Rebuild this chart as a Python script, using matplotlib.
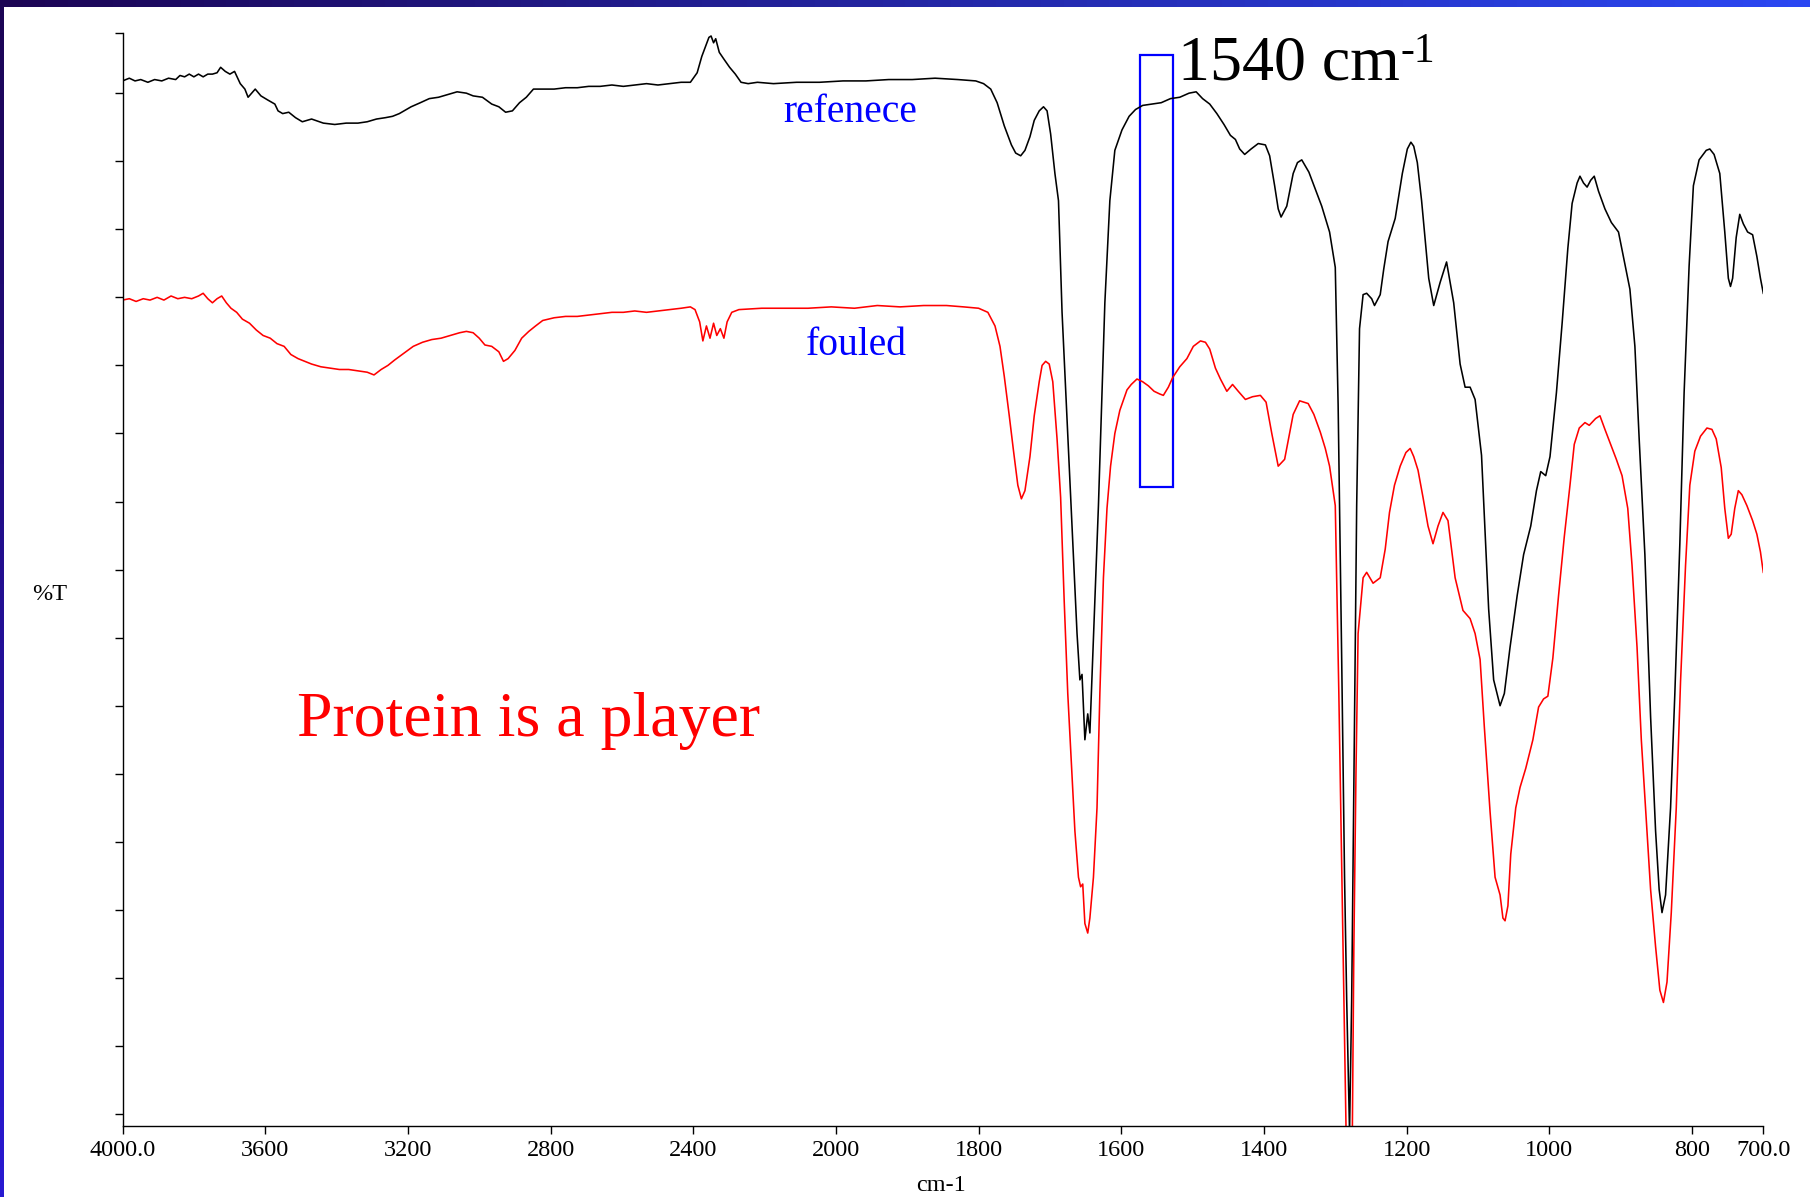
import numpy as np
import matplotlib
matplotlib.use("Agg")
import matplotlib.pyplot as plt
from matplotlib.patches import Rectangle

plt.rcParams['font.family'] = ['Liberation Serif', 'DejaVu Serif']

# FTIR spectra, wavenumber (cm-1) vs %T
ref_wn = [4000, 3981, 3965, 3949, 3929, 3910, 3890, 3871, 3851, 3839,
          3826, 3813, 3800, 3787, 3774, 3761, 3748, 3735, 3725, 3712,
          3699, 3686, 3670, 3657, 3648, 3638, 3628, 3612, 3593, 3573,
          3564, 3551, 3534, 3515, 3496, 3470, 3437, 3405, 3373, 3340,
          3314, 3288, 3263, 3243, 3224, 3211, 3191, 3165, 3140, 3114,
          3088, 3062, 3036, 3017, 2991, 2965, 2945, 2926, 2907, 2887,
          2868, 2848, 2822, 2790, 2758, 2725, 2693, 2661, 2628, 2596,
          2564, 2531, 2499, 2466, 2434, 2408, 2389, 2376, 2366, 2356,
          2350, 2343, 2337, 2327, 2314, 2298, 2282, 2266, 2246, 2220,
          2175, 2110, 2046,
          1990, 1958, 1926, 1893, 1861, 1829, 1804, 1793, 1783, 1774,
          1764, 1754, 1748, 1741, 1735, 1728, 1722, 1715, 1709, 1704,
          1699, 1693, 1688, 1683, 1672, 1662, 1658, 1655, 1651, 1647,
          1644, 1639, 1632, 1623, 1616, 1609, 1599, 1589, 1580, 1570,
          1557, 1544, 1531, 1518, 1505, 1495, 1486, 1476, 1466, 1456,
          1447, 1440, 1434, 1427, 1418, 1408, 1398, 1392, 1385, 1380,
          1376, 1368, 1359, 1353, 1347, 1337, 1327, 1319, 1308, 1300,
          1296, 1291, 1287, 1284, 1280, 1277, 1270, 1266, 1261, 1256,
          1249, 1245, 1237, 1232, 1226, 1216, 1212, 1206, 1199, 1194,
          1190, 1185, 1179, 1169, 1162, 1153, 1144, 1134, 1125, 1118,
          1111, 1104, 1095, 1085, 1078, 1069, 1063, 1055, 1045, 1036,
          1026, 1018, 1012, 1005, 999, 990, 982, 974, 968, 961,
          957, 952, 947, 942, 937, 931, 922, 913, 903, 895,
          887, 880, 874, 866, 858, 851, 846, 842, 837, 830,
          824, 817, 811, 804, 798, 790, 780, 775, 769, 761,
          754, 749, 746, 743, 738, 733, 728, 722, 715, 709,
          704, 700]
ref_t = [75.9, 76.1, 75.9, 76.0, 75.8, 76.0, 75.9, 76.1, 76.0, 76.3,
         76.2, 76.4, 76.2, 76.4, 76.2, 76.4, 76.4, 76.5, 76.9, 76.6,
         76.4, 76.6, 75.7, 75.3, 74.7, 75.0, 75.3, 74.8, 74.5, 74.2,
         73.7, 73.5, 73.6, 73.2, 72.9, 73.1, 72.8, 72.7, 72.8, 72.8,
         72.9, 73.1, 73.2, 73.3, 73.5, 73.7, 74.0, 74.3, 74.6, 74.7,
         74.9, 75.1, 75.0, 74.8, 74.7, 74.2, 74.0, 73.6, 73.7, 74.3,
         74.7, 75.3, 75.3, 75.3, 75.4, 75.4, 75.5, 75.5, 75.6, 75.5,
         75.6, 75.7, 75.6, 75.7, 75.8, 75.8, 76.5, 77.7, 78.4, 79.1,
         79.2, 78.7, 79.0, 78.0, 77.5, 76.9, 76.4, 75.8, 75.7, 75.8,
         75.7, 75.8, 75.8,
         75.9, 75.9, 76.0, 76.0, 76.1, 76.0, 75.9, 75.7, 75.3, 74.3,
         72.6, 71.2, 70.6, 70.4, 70.8, 71.8, 73.0, 73.7, 74.0, 73.7,
         72.0, 69.1, 67.1, 58.9, 46.5, 35.3, 31.9, 32.3, 27.5, 29.4,
         28.0, 34.9, 44.7, 59.6, 67.1, 70.8, 72.3, 73.3, 73.8, 74.1,
         74.2, 74.3, 74.6, 74.7, 75.0, 75.1, 74.6, 74.2, 73.5, 72.7,
         71.9, 71.6, 70.9, 70.5, 70.9, 71.3, 71.2, 70.4, 68.2, 66.5,
         65.9, 66.7, 69.1, 69.9, 70.1, 69.2, 67.8, 66.7, 64.8, 62.2,
         52.1, 33.4, 17.4, 8.4, -1.3, 8.4, 44.7, 57.7, 60.2, 60.3,
         59.9, 59.4, 60.2, 62.1, 64.1, 65.8, 67.1, 69.1, 70.9, 71.4,
         71.1, 69.9, 67.1, 61.4, 59.4, 61.1, 62.6, 59.6, 55.1, 53.4,
         53.4, 52.5, 48.4, 37.1, 31.9, 30.0, 30.9, 34.3, 38.1, 41.1,
         43.2, 45.8, 47.2, 46.9, 48.3, 53.0, 58.1, 63.6, 66.9, 68.4,
         68.9, 68.4, 68.1, 68.6, 68.9, 67.8, 66.5, 65.5, 64.8, 62.7,
         60.6, 56.4, 49.6, 41.1, 29.2, 20.8, 16.5, 14.8, 16.1, 22.5,
         30.9, 41.9, 53.0, 62.3, 68.2, 70.1, 70.8, 70.9, 70.5, 69.1,
         64.8, 61.4, 60.8, 61.4, 64.4, 66.1, 65.4, 64.8, 64.6, 63.0,
         61.4, 60.3]

fouled_wn = [4000, 3981, 3962, 3942, 3923, 3903, 3884, 3864, 3845, 3826,
             3806, 3787, 3774, 3761, 3748, 3735, 3722, 3709, 3696, 3680,
             3664, 3644, 3625, 3606, 3586, 3567, 3547, 3528, 3508, 3489,
             3470, 3444, 3418, 3392, 3366, 3340, 3314, 3295, 3275, 3256,
             3237, 3211, 3185, 3159, 3133, 3107, 3081, 3055, 3036, 3017,
             3000, 2984, 2965, 2945, 2932, 2919, 2900, 2881, 2861, 2842,
             2822, 2790, 2758, 2725, 2693, 2661, 2628, 2596, 2564, 2531,
             2499, 2466, 2434, 2408, 2395, 2382, 2373, 2363, 2353, 2343,
             2334, 2324, 2314, 2305, 2292, 2272, 2208, 2143, 2078, 2013,
             1974, 1942, 1910, 1877, 1845, 1821, 1800, 1787, 1777, 1770,
             1764, 1757, 1751, 1745, 1740, 1735, 1728, 1722, 1715, 1711,
             1706, 1701, 1696, 1690, 1685, 1680, 1675, 1670, 1665, 1660,
             1657, 1654, 1651, 1647, 1644, 1639, 1634, 1630, 1625, 1620,
             1615, 1609, 1602, 1592, 1586, 1578, 1570, 1562, 1554, 1546,
             1541, 1534, 1528, 1518, 1508, 1499, 1489, 1482, 1476, 1468,
             1461, 1452, 1444, 1436, 1426, 1416, 1405, 1397, 1389, 1380,
             1371, 1364, 1359, 1350, 1338, 1330, 1321, 1314, 1308, 1300,
             1295, 1290, 1285, 1281, 1276, 1274, 1271, 1268, 1261, 1256,
             1247, 1237, 1230, 1224, 1217, 1209, 1201, 1195, 1190, 1184,
             1177, 1170, 1163, 1156, 1149, 1142, 1132, 1121, 1111, 1104,
             1097, 1091, 1083, 1076, 1069, 1065, 1062, 1058, 1054, 1047,
             1041, 1033, 1023, 1015, 1008, 1002, 995, 987, 979, 971,
             965, 958, 950, 944, 935, 929, 922, 914, 906, 898,
             890, 884, 877, 871, 864, 858, 851, 845, 840, 835,
             829, 822, 816, 809, 803, 796, 788, 779, 772, 766,
             759, 754, 749, 745, 740, 735, 730, 723, 715, 709,
             704, 700]
fouled_t = [59.8, 59.9, 59.7, 59.9, 59.8, 60.0, 59.8, 60.1, 59.9, 60.0,
            59.9, 60.1, 60.3, 59.9, 59.6, 59.9, 60.1, 59.6, 59.2, 58.9,
            58.4, 58.1, 57.6, 57.2, 57.0, 56.6, 56.4, 55.8, 55.5, 55.3,
            55.1, 54.9, 54.8, 54.7, 54.7, 54.6, 54.5, 54.3, 54.7, 55.0,
            55.4, 55.9, 56.4, 56.7, 56.9, 57.0, 57.2, 57.4, 57.5, 57.4,
            57.0, 56.5, 56.4, 56.0, 55.3, 55.5, 56.1, 57.0, 57.5, 57.9,
            58.3, 58.5, 58.6, 58.6, 58.7, 58.8, 58.9, 58.9, 59.0, 58.9,
            59.0, 59.1, 59.2, 59.3, 59.1, 58.2, 56.8, 57.9, 57.0, 58.1,
            57.2, 57.7, 57.0, 58.2, 58.9, 59.1, 59.2, 59.2, 59.2, 59.3,
            59.2, 59.4, 59.3, 59.4, 59.4, 59.3, 59.2, 58.9, 57.9, 56.4,
            54.2, 51.3, 48.7, 46.2, 45.2, 45.8, 48.3, 51.3, 53.8, 55.0,
            55.3, 55.1, 53.8, 49.6, 45.3, 37.7, 30.9, 25.8, 20.8, 17.4,
            16.7, 16.9, 14.0, 13.3, 14.4, 17.4, 22.5, 30.9, 39.4, 44.5,
            47.6, 50.0, 51.7, 53.2, 53.6, 54.0, 53.8, 53.5, 53.1, 52.9,
            52.8, 53.4, 54.1, 54.9, 55.5, 56.4, 56.8, 56.7, 56.2, 54.8,
            54.0, 53.1, 53.6, 53.1, 52.5, 52.7, 52.8, 52.3, 50.0, 47.6,
            48.1, 50.0, 51.4, 52.4, 52.2, 51.4, 50.1, 48.9, 47.6, 44.7,
            30.9, 15.0, -0.8, -25.0, -0.8, 12.0, 25.0, 35.3, 39.4, 39.8,
            39.0, 39.4, 41.5, 44.2, 46.2, 47.6, 48.6, 48.9, 48.3, 47.3,
            45.3, 43.2, 41.9, 43.2, 44.2, 43.6, 39.4, 37.0, 36.4, 35.3,
            33.4, 28.4, 22.2, 17.4, 16.1, 14.4, 14.2, 15.3, 19.1, 22.5,
            24.0, 25.4, 27.5, 29.9, 30.5, 30.7, 33.5, 38.1, 42.4, 46.2,
            49.2, 50.4, 50.8, 50.6, 51.1, 51.3, 50.3, 49.2, 48.1, 46.9,
            44.5, 40.3, 34.3, 27.5, 21.6, 16.5, 12.3, 9.1, 8.2, 9.7,
            14.8, 22.5, 31.8, 40.3, 46.2, 48.7, 49.8, 50.4, 50.3, 49.6,
            47.5, 44.5, 42.3, 42.6, 44.5, 45.8, 45.5, 44.7, 43.6, 42.6,
            41.3, 39.8]

x_ticks = [4000, 3600, 3200, 2800, 2400, 2000, 1800, 1600, 1400, 1200, 1000, 800, 700]
x_labels = ['4000.0', '3600', '3200', '2800', '2400', '2000', '1800', '1600',
            '1400', '1200', '1000', '800', '700.0']
y_ticks = [0, 5, 10, 15, 20, 25, 30, 35, 40, 45, 50, 55, 60, 65, 70, 75, 79.4]

# amide II band marked with a box
band_lo, band_hi = 1527, 1574
band_bottom, band_top = 46.1, 77.8


# wavenumber axis: 400 cm-1 per division above 2000, 200 cm-1 per division below
def fwd(x):
    x = np.asarray(x, dtype=float)
    return np.where(x >= 2000, (x - 4000) / 400.0, -5 - (2000 - x) / 200.0)


def inv(u):
    u = np.asarray(u, dtype=float)
    return np.where(u >= -5, 4000 + 400.0 * u, 2000 + 200.0 * (u + 5))


fig = plt.figure(figsize=(18.10, 11.97), dpi=100)

# slide background with a white panel on top
bg = fig.add_axes([0, 0, 1, 1], zorder=0)
bg.axis('off')
gx = np.linspace(0, 1, 80)[None, :, None]
gy = np.linspace(0, 1, 80)[:, None, None]
dark = np.array([0.11, 0.02, 0.33])
img = dark + gx * (np.array([0.17, 0.28, 0.95]) - dark) + gy * (np.array([0.16, 0.10, 0.82]) - dark)
bg.imshow(np.clip(img, 0, 1), extent=[0, 1, 0, 1], aspect='auto', origin='upper')
bg.add_patch(Rectangle((4 / 1810, 0), 1, 1 - 7 / 1197, transform=bg.transAxes,
                       facecolor='white', edgecolor='none'))
bg.set_xlim(0, 1)
bg.set_ylim(0, 1)

ax = fig.add_axes([0.0677, 0.0596, 0.9065, 0.9126], zorder=1)
ax.set_facecolor('none')
ax.set_xscale('function', functions=(fwd, inv))

ax.plot(ref_wn, ref_t, color='black', lw=1.15)
ax.plot(fouled_wn, fouled_t, color='red', lw=1.15)

ax.add_patch(Rectangle((band_lo, band_bottom), band_hi - band_lo, band_top - band_bottom,
                       fill=False, edgecolor='#0000ff', lw=1.6))

ax.set_xlim(4000, 700)
ax.set_ylim(-0.85, 79.4)
ax.set_xticks(x_ticks)
ax.set_xticklabels(x_labels)
ax.set_yticks(y_ticks)
ax.set_yticklabels([])
ax.tick_params(axis='both', direction='out', length=6, width=1.0, labelsize=17.5, pad=4.5)
ax.spines['top'].set_visible(False)
ax.spines['right'].set_visible(False)
ax.spines['left'].set_linewidth(1.0)
ax.spines['bottom'].set_linewidth(1.0)

ax.text(1980, 72.9, 'refenece', color='#0000ff', fontsize=28.5, ha='center', va='baseline')
ax.text(1971, 55.8, 'fouled', color='#0000ff', fontsize=28.5, ha='center', va='baseline')
t = ax.text(1520, 76.0, '1540 cm', color='black', fontsize=46, ha='left', va='baseline')
ax.annotate('-1', xy=(1.0, 1.0), xycoords=t, xytext=(0, 2), textcoords='offset points',
            fontsize=30, ha='left', va='top')
ax.text(3512, 27.8, 'Protein is a player', color='red', fontsize=46, ha='left', va='baseline')

fig.text(31.7 / 1810, 1 - 595 / 1197, '%T', fontsize=17.5, ha='left', va='center')
fig.text(941 / 1810, 1 - 1191 / 1197, 'cm-1', fontsize=17.5, ha='center', va='baseline')

fig.savefig('out.png', dpi=100)
